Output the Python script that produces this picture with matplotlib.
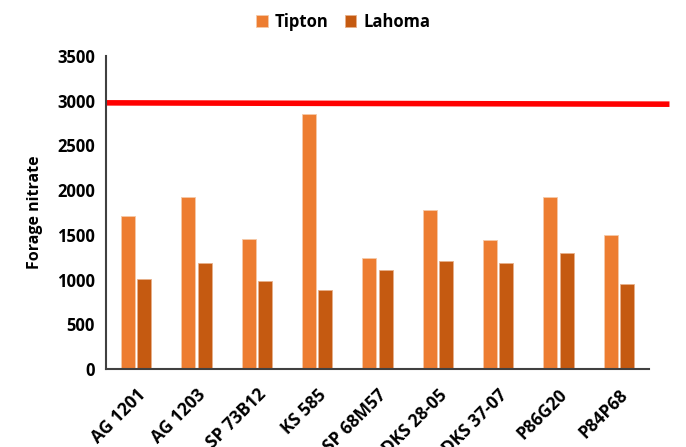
import numpy as np
from matplotlib import pyplot as plt

hybrids = ["AG 1201", "AG 1203", "SP 73B12", "KS 585", "SP 68M57",
           "DKS 28-05", "DKS 37-07", "P86G20", "P84P68"]
tipton = [1710, 1917, 1449, 2846, 1240, 1776, 1438, 1917, 1494]
lahoma = [1003, 1181, 988, 880, 1103, 1207, 1181, 1293, 947]
threshold = [2975, 2960]

plt.rcParams['font.family'] = ['Open Sans', 'DejaVu Sans']

fig = plt.figure(figsize=(6.86, 4.47), dpi=100)
ax = fig.add_axes([0.1545, 0.1745, 0.7915, 0.7005])

x = np.arange(len(hybrids))
w = 0.235
ax.bar(x - 0.135, tipton, w, color="#ED7D31", edgecolor="#f6c9a8", linewidth=0.6, label="Tipton")
ax.bar(x + 0.135, lahoma, w, color="#C55A11", edgecolor="#e8b08a", linewidth=0.6, label="Lahoma")

# threshold line runs past the plot area
ax.plot([-0.5, 8.84], threshold, color="#ff0000", lw=4, clip_on=False, solid_capstyle="butt")

ax.set_xlim(-0.5, 8.5)
ax.set_ylim(0, 3500)
ax.set_yticks(range(0, 3501, 500))
ax.set_xticks(x)
ax.set_xticklabels(hybrids, rotation=45, ha="right", rotation_mode="anchor",
                   fontsize=12.5, fontweight="bold")
for t in ax.get_yticklabels():
    t.set_fontsize(12)
    t.set_fontweight("bold")
ax.tick_params(length=0, pad=8)
ax.tick_params(axis="x", pad=12)

for s in ["top", "right"]:
    ax.spines[s].set_visible(False)
for s in ["left", "bottom"]:
    ax.spines[s].set_color("#404040")
    ax.spines[s].set_linewidth(1.5)

ax.set_ylabel("Forage nitrate", fontsize=11.5, fontweight="bold", labelpad=10)

fig.legend(loc="upper center", bbox_to_anchor=(0.5, 1.005), ncol=2, frameon=False,
           prop={"weight": "bold", "size": 12}, handlelength=0.7, handleheight=0.7,
           columnspacing=1.0, handletextpad=0.4)

fig.savefig("out.png", dpi=100)
